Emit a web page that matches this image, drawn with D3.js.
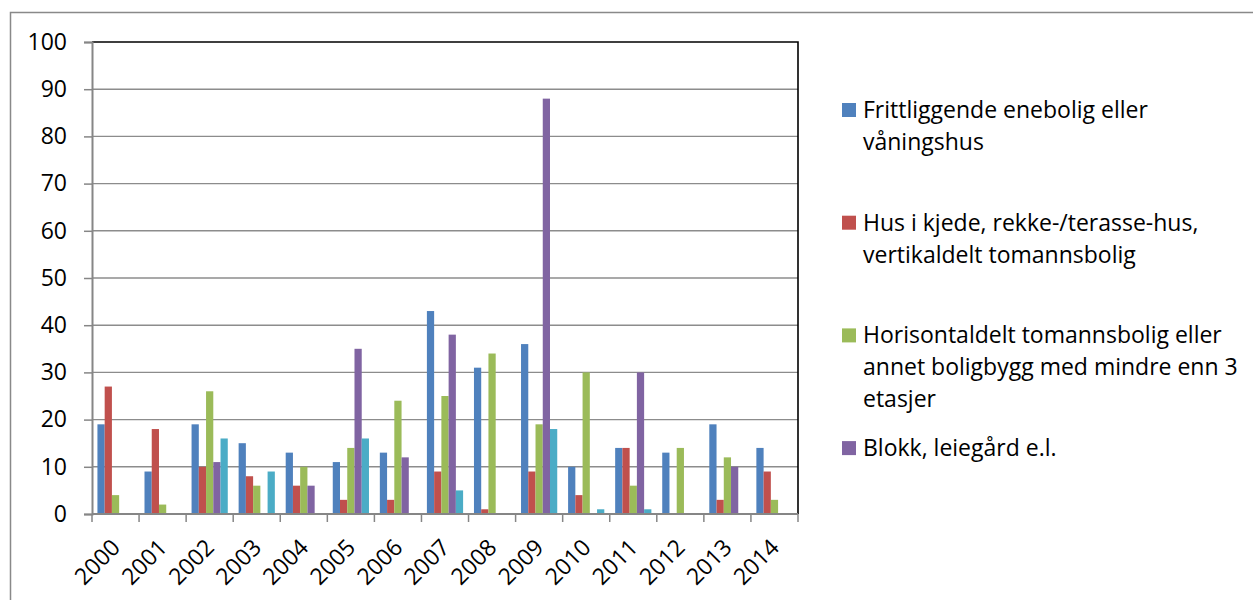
<!DOCTYPE html>
<html>
<head>
<meta charset="utf-8">
<script src="https://cdn.jsdelivr.net/npm/d3@7"></script>
<style>
  body { margin: 0; background: #fff; }
  text { font-family: "Open Sans", Lato, sans-serif; fill: #000; }
</style>
</head>
<body>
<script>
// years on the x axis
var years = ["2000","2001","2002","2003","2004","2005","2006","2007","2008","2009","2010","2011","2012","2013","2014"];

// one array per series
var enebolig   = [19, 9, 19, 15, 13, 11, 13, 43, 31, 36, 10, 14, 13, 19, 14];
var rekkehus   = [27, 18, 10, 8, 6, 3, 3, 9, 1, 9, 4, 14, 0, 3, 9];
var horisontal = [4, 2, 26, 6, 10, 14, 24, 25, 34, 19, 30, 6, 14, 12, 3];
var blokk      = [0, 0, 11, 0, 6, 35, 12, 38, 0, 88, 0, 30, 0, 10, 0];
var femte      = [0, 0, 16, 9, 0, 16, 0, 5, 0, 18, 1, 1, 0, 0, 0];   // no legend entry in the original

var seriesNames = [
    ["Frittliggende enebolig eller", "våningshus"],
    ["Hus i kjede, rekke-/terasse-hus,", "vertikaldelt tomannsbolig"],
    ["Horisontaldelt tomannsbolig eller", "annet boligbygg med mindre enn 3", "etasjer"],
    ["Blokk, leiegård e.l."],
    null
];
var yTicks = [0, 10, 20, 30, 40, 50, 60, 70, 80, 90, 100];

var allSeries = [enebolig, rekkehus, horisontal, blokk, femte];
var colors = ["#4F81BD", "#C0504D", "#9BBB59", "#8064A2", "#4BACC6"];

var W = 1253, H = 600;
var plot = { left: 92, right: 798, top: 42, bottom: 514 };
var fontSize = "23px";

var svg = d3.select("body").append("svg")
    .attr("width", W)
    .attr("height", H);

// outer chart frame (only top and left edges are in view)
svg.append("path")
    .attr("d", "M10.5," + H + "V12.5H" + W)
    .attr("fill", "none")
    .attr("stroke", "#898989")
    .attr("stroke-width", 1.5);

var x = d3.scaleBand()
    .domain(years)
    .range([plot.left, plot.right]);

// Excel style: gap width 150% -> five bars fill 5/6.5 of the category
var step = x.step();
var xs = d3.scaleBand()
    .domain(d3.range(allSeries.length))
    .range([step * 0.75 / 6.5, step * 5.75 / 6.5]);

var y = d3.scaleLinear()
    .domain([0, 100])
    .range([plot.bottom, plot.top]);

// gridlines
svg.append("g")
    .selectAll("line")
    .data(yTicks.slice(1, -1))
    .enter()
    .append("line")
    .attr("x1", plot.left)
    .attr("x2", plot.right)
    .attr("y1", function(d) { return y(d); })
    .attr("y2", function(d) { return y(d); })
    .attr("stroke", "#8c8c8c")
    .attr("stroke-width", 1.4);

// bars
var groups = svg.append("g")
    .selectAll("g")
    .data(allSeries)
    .enter()
    .append("g")
    .attr("fill", function(d, i) { return colors[i]; });

groups.selectAll("rect")
    .data(function(d, i) {
        return d.map(function(v, j) { return { s: i, year: years[j], value: v }; })
            .filter(function(e) { return e.value > 0; });
    })
    .enter()
    .append("rect")
    .attr("x", function(d) { return x(d.year) + xs(d.s); })
    .attr("width", xs.bandwidth())
    .attr("y", function(d) { return y(d.value); })
    .attr("height", function(d) { return y(0) - y(d.value); });

// top and right border of the plot area
svg.append("path")
    .attr("d", "M" + plot.left + "," + plot.top + "H" + plot.right + "V" + plot.bottom)
    .attr("fill", "none")
    .attr("stroke", "#000")
    .attr("stroke-width", 1.6);

// y axis
var yAxis = d3.axisLeft(y)
    .tickValues(yTicks)
    .tickSize(8)
    .tickPadding(17);

var yg = svg.append("g")
    .attr("transform", "translate(" + plot.left + ",0)")
    .call(yAxis);
yg.select(".domain").attr("stroke", "#868686").attr("stroke-width", 2);
yg.selectAll(".tick line").attr("stroke", "#868686").attr("stroke-width", 1.5);
yg.selectAll("text")
    .attr("font-size", fontSize)
    .attr("fill", "#000")
    .style("font-family", "'Open Sans', sans-serif");

// x axis: ticks sit on the category boundaries
var bounds = d3.range(years.length + 1).map(function(i) { return plot.left + i * step; });

svg.append("line")
    .attr("x1", plot.left)
    .attr("x2", plot.right)
    .attr("y1", plot.bottom)
    .attr("y2", plot.bottom)
    .attr("stroke", "#868686")
    .attr("stroke-width", 2);

svg.append("g")
    .selectAll("line")
    .data(bounds)
    .enter()
    .append("line")
    .attr("x1", function(d) { return d; })
    .attr("x2", function(d) { return d; })
    .attr("y1", plot.bottom)
    .attr("y2", plot.bottom + 8)
    .attr("stroke", "#868686")
    .attr("stroke-width", 1.5);

svg.append("g")
    .selectAll("text")
    .data(years)
    .enter()
    .append("text")
    .attr("text-anchor", "end")
    .attr("font-size", fontSize)
    .attr("transform", function(d) {
        var cx = x(d) + step / 2;
        return "translate(" + (cx + 6) + ",549) rotate(-45)";
    })
    .text(function(d) { return d; });

// legend
var legendData = seriesNames
    .map(function(n, i) { return { lines: n, color: colors[i] }; })
    .filter(function(d) { return d.lines; });

var legend = svg.append("g")
    .selectAll("g")
    .data(legendData)
    .enter()
    .append("g")
    .attr("transform", function(d, i) {
        return "translate(842," + (110 + i * 112.7) + ")";
    });

legend.append("rect")
    .attr("x", 0)
    .attr("y", -7)
    .attr("width", 14)
    .attr("height", 14)
    .attr("fill", function(d) { return d.color; });

legend.append("text")
    .attr("font-size", fontSize)
    .selectAll("tspan")
    .data(function(d) { return d.lines; })
    .enter()
    .append("tspan")
    .attr("x", 21)
    .attr("y", function(d, i) { return 8 + i * 32; })
    .text(function(d) { return d; });
</script>
</body>
</html>
